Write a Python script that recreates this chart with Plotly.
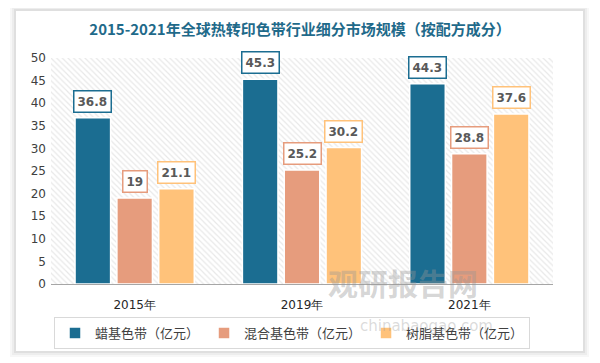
import plotly.graph_objects as go

categories = ["2015年", "2019年", "2021年"]
series_names = ["蜡基色带（亿元）", "混合基色带（亿元）", "树脂基色带（亿元）"]
wax = [36.8, 45.3, 44.3]
mixed = [19, 25.2, 28.8]
resin = [21.1, 30.2, 37.6]
y_ticks = [0, 5, 10, 15, 20, 25, 30, 35, 40, 45, 50]

colors = ["#1b6d91", "#e69c7d", "#ffc27a"]
values = [wax, mixed, resin]

OFF = 8  # page body margin
W, H = 600 - OFF, 363 - OFF
# target pixel positions in the 600x363 window
PL, PR, PT, PB = 51, 553, 58, 284
L, T = PL - OFF, PT - OFF
R, B = W - (PR - OFF), H - (PB - OFF)
PW, PH = PR - PL, PB - PT


def px(x):
    return (x - PL) / PW


def py(y):
    return (PB - y) / PH


fig = go.Figure()

# hatched plot background on base axes
fig.add_trace(go.Scatter(
    x=[0, 1, 1, 0, 0], y=[0, 0, 1, 1, 0], xaxis="x", yaxis="y",
    mode="lines", line=dict(width=0), fill="toself", fillcolor="white",
    fillpattern=dict(shape="\\", fgcolor="#d2d2d2", bgcolor="white", size=4, solidity=0.3),
    showlegend=False, hoverinfo="skip"))

for name, vals, c in zip(series_names, values, colors):
    fig.add_trace(go.Bar(
        x=categories, y=vals, name=name, xaxis="x2", yaxis="y2",
        marker=dict(color=c, line=dict(color="white", width=1.5))))

annotations = []
for i, (vals, c) in enumerate(zip(values, colors)):
    for cat, v in zip(categories, vals):
        annotations.append(dict(
            x=cat, y=v, xref="x2", yref="y2", text=f"<b>{v:g}</b>",
            showarrow=False, yanchor="bottom", yshift=5, xshift=(i - 1) * 41.7,
            font=dict(family="DejaVu Sans", size=12, color="#595959"),
            bgcolor="white", bordercolor=c, borderwidth=1.5, borderpad=3))

# watermark
annotations.append(dict(x=px(480), y=py(306), xref="paper", yref="paper",
                        text="<b>观研报告网</b>", showarrow=False,
                        font=dict(family="Noto Sans CJK SC", size=30, color="rgba(150,150,150,0.4)")))
annotations.append(dict(x=px(495), y=py(337), xref="paper", yref="paper",
                        text="chinabaogao.com", showarrow=False,
                        font=dict(family="DejaVu Sans", size=15, color="rgba(150,150,150,0.35)")))

# card with shadow
shapes = []
x0, y0, x1, y1 = 16, 11, 583, 351
for k, op in [(6, 0.03), (4, 0.04), (2, 0.06)]:
    shapes.append(dict(type="rect", xref="paper", yref="paper", layer="below",
                       x0=px(x0 - k), x1=px(x1 + k), y0=py(y1 + k), y1=py(y0 - k),
                       fillcolor=f"rgba(0,0,0,{op})", line=dict(width=0)))
shapes.append(dict(type="rect", xref="paper", yref="paper", layer="below",
                   x0=px(x0), x1=px(x1), y0=py(y1), y1=py(y0),
                   fillcolor="white", line=dict(width=0)))

fig.update_layout(
    width=W, height=H,
    margin=dict(l=L, r=R, t=T, b=B, autoexpand=False),
    paper_bgcolor="white", plot_bgcolor="rgba(0,0,0,0)",
    title=dict(text="<b>2015-2021年全球热转印色带行业细分市场规模（按配方成分）</b>",
               x=(300 - OFF) / W, xanchor="center", y=1 - (30 - OFF) / H, yanchor="middle",
               font=dict(family="Noto Sans CJK SC", size=15, color="#1f6a8a")),
    barmode="group", bargap=0.25, bargroupgap=0.15,
    xaxis=dict(range=[0, 1], visible=False, fixedrange=True),
    yaxis=dict(range=[0, 1], visible=False, fixedrange=True),
    xaxis2=dict(overlaying="x", type="category", showgrid=False, showline=True,
                linecolor="#a6a6a6", linewidth=1, ticks="", ticklabelstandoff=10,
                tickfont=dict(family="DejaVu Sans", size=12, color="#262626")),
    yaxis2=dict(overlaying="y", range=[0, 50], tickvals=y_ticks, showgrid=False,
                zeroline=False, showline=False, ticks="", ticklabelstandoff=4,
                tickfont=dict(family="DejaVu Sans", size=12, color="#404040")),
    legend=dict(orientation="h", x=px(292), xanchor="center", y=py(317), yanchor="top",
                bordercolor="#d9d9d9", borderwidth=1, bgcolor="white",
                font=dict(family="Noto Sans CJK SC", size=13, color="#404040"),
                itemwidth=30),
    annotations=annotations, shapes=shapes,
)

fig.write_html("out.html")
